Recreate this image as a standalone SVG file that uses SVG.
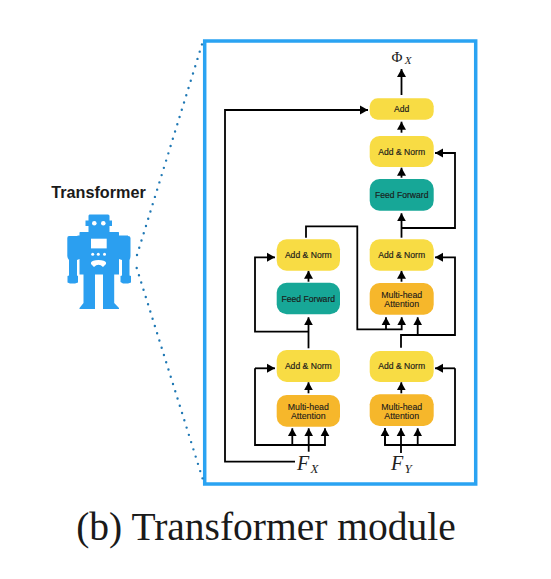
<svg xmlns="http://www.w3.org/2000/svg" width="551" height="579" viewBox="0 0 551 579">
<style>
text{font-family:"Liberation Sans",Arial,sans-serif;fill:#1a1a1a;text-anchor:middle}
.l{font-size:8.6px;stroke:#1a1a1a;stroke-width:.15}
.s{font-size:8.8px;stroke:#1a1a1a;stroke-width:.1}
.g{font-family:"Liberation Serif",serif;fill:#222}
.y{fill:#f8dc44}.t{fill:#17a797}.o{fill:#f6b72b}
.c{fill:none;stroke:#000;stroke-width:1.8}
.a{marker-end:url(#h)}
.d{fill:none;stroke:#1f78b4;stroke-width:2.4;stroke-linecap:round;stroke-dasharray:0 7.6}
.w{fill:#fff}
</style>
<defs><marker id="h" markerUnits="userSpaceOnUse" markerWidth="10" markerHeight="10" refX="8" refY="5" orient="auto"><path d="M0 0.500L8 5L0 9.500Z" fill="#000"/></marker></defs>
<rect width="551" height="579" fill="#fff"/>
<rect x="204.700" y="41" width="271" height="443" fill="none" stroke="#2aa3f2" stroke-width="3.500"/>
<path class="d" d="M137 255L203 41"/>
<path class="d" d="M136.700 268L203 480"/>
<text x="98.500" y="198" font-weight="700" font-size="16.200">Transformer</text>
<g id="robot">
<path fill="#2b9ff0" d="M89.500 214.500H108Q109.500 214.500 109.500 216V220.500H112V226H109.500V232H118.500Q119 232 119 233V235.500H120V235.500H128V236Q130.500 236 130.500 238V256Q130.500 258 129.500 260V275.500L131 276V282.500L128 283.500H123L120.500 282L120.500 276L122 275.500V260L119 259V274.500H114.200V303L119 308V309H103V274.500H95V309H79.500V308L83.500 303V274.500H79.500V259L77 260V275.500L78 276V282.500L75 283.500H70L67.500 282.500V276L69 275.500V260Q67.300 258 67.300 256V238Q67.300 236 69 236H77.500V235.500H79.500V233Q79.500 232 80 232H88.500V226H85.500V220.500H88.500V216Q88.500 214.500 89.500 214.500Z"/>
<circle class="w" cx="94.300" cy="223.300" r="2.300"/>
<circle class="w" cx="103.300" cy="223.300" r="2.300"/>
<rect class="w" x="91" y="238.700" width="15.700" height="9.700"/>
<circle class="w" cx="92.700" cy="254.300" r="1.500"/>
<circle class="w" cx="98.300" cy="254.300" r="1.500"/>
<circle class="w" cx="104.500" cy="254.300" r="1.500"/>
<path class="w" d="M91 262.500Q92 260 98.500 260Q105 260 106 262.500L106 264L103 267Q98.500 262.500 94 267L91 264Z"/>
</g>
<g id="connectors">
<path class="c a" d="M401.500 95V69"/>
<path class="c a" d="M295 461.700H225V110H368"/>
<path class="c a" d="M401.500 132.700V121.700"/>
<path class="c a" d="M401.500 177.700V167.700"/>
<path class="c a" d="M401.500 237.700V213.300"/>
<path class="c a" d="M401.500 228H455V153H435"/>
<path class="c a" d="M401.500 281.700V270.700"/>
<path class="c a" d="M401 347.700V335H455V257.300H435"/>
<path class="c a" d="M417.700 335V317.300"/>
<path class="c a" d="M306 237.700V226.300H357.300V329.300H401.700V317.300"/>
<path class="c a" d="M386 329.300V317.300"/>
<path class="c a" d="M401.300 393.300V382.300"/>
<path class="c a" d="M401 453V428.300"/>
<path class="c" d="M385 428.300V445H455V368.300"/>
<path class="c a" d="M385 445V428.300"/>
<path class="c a" d="M417.700 445V428.300"/>
<path class="c a" d="M455 368.300H435"/>
<path class="c a" d="M308.500 281.700V270.700"/>
<path class="c a" d="M308.500 348.300V317.300"/>
<path class="c a" d="M308.500 331.700H255V257.300H275"/>
<path class="c a" d="M308.500 393.300V382.300"/>
<path class="c a" d="M308.700 451.700V428.300"/>
<path class="c a" d="M255 368.300V445H325V428.300"/>
<path class="c a" d="M255 368.300H275"/>
<path class="c a" d="M292.300 445V428.300"/>
</g>
<g id="phi"><text class="g" x="397" y="62" font-size="15">Φ</text><text class="g" x="408" y="64" font-size="11" font-style="italic">X</text></g>
<g id="add"><rect class="y" x="369.700" y="98.300" width="64" height="21.400" rx="8"/><text class="l" x="401.700" y="112">Add</text></g>
<g id="an4"><rect class="y" x="369.700" y="136" width="64" height="31" rx="10"/><text class="l" x="401.700" y="154.500">Add &amp; Norm</text></g>
<g id="ff2"><rect class="t" x="369.700" y="179" width="64" height="31.700" rx="10"/><text class="l" x="401.700" y="197.500">Feed Forward</text></g>
<g id="an3"><rect class="y" x="369.700" y="239.300" width="64" height="31.400" rx="10"/><text class="l" x="401.700" y="258">Add &amp; Norm</text></g>
<g id="mha3"><rect class="o" x="369.700" y="283" width="64" height="31.700" rx="10"/><text class="s" x="401.700" y="297.500">Multi-head</text><text class="s" x="401.700" y="307">Attention</text></g>
<g id="an2"><rect class="y" x="369.700" y="351" width="64" height="31" rx="10"/><text class="l" x="401.700" y="369.300">Add &amp; Norm</text></g>
<g id="mha2"><rect class="o" x="369.700" y="394.300" width="64" height="31.700" rx="10"/><text class="s" x="401.700" y="409.500">Multi-head</text><text class="s" x="401.700" y="419">Attention</text></g>
<g id="lan2"><rect class="y" x="276.700" y="239.300" width="63.300" height="31.400" rx="10"/><text class="l" x="308.300" y="258">Add &amp; Norm</text></g>
<g id="lff"><rect class="t" x="276.700" y="282.700" width="63.300" height="31.600" rx="10"/><text class="l" x="308.300" y="301.700">Feed Forward</text></g>
<g id="lan1"><rect class="y" x="276.700" y="350" width="63.300" height="32" rx="10"/><text class="l" x="308.300" y="369">Add &amp; Norm</text></g>
<g id="lmha"><rect class="o" x="276.700" y="395" width="63.300" height="31.700" rx="10"/><text class="s" x="308.300" y="409.500">Multi-head</text><text class="s" x="308.300" y="419">Attention</text></g>
<g id="fx"><text class="g" x="303" y="470" font-size="20" font-style="italic">F</text><text class="g" x="314.500" y="473" font-size="13" font-style="italic">X</text></g>
<g id="fy"><text class="g" x="397" y="470" font-size="20" font-style="italic">F</text><text class="g" x="408" y="473" font-size="13" font-style="italic">Y</text></g>
<text x="266" y="540" style="font-family:'Liberation Serif',serif" font-size="39.500" fill="#111">(b) Transformer module</text>
</svg>
